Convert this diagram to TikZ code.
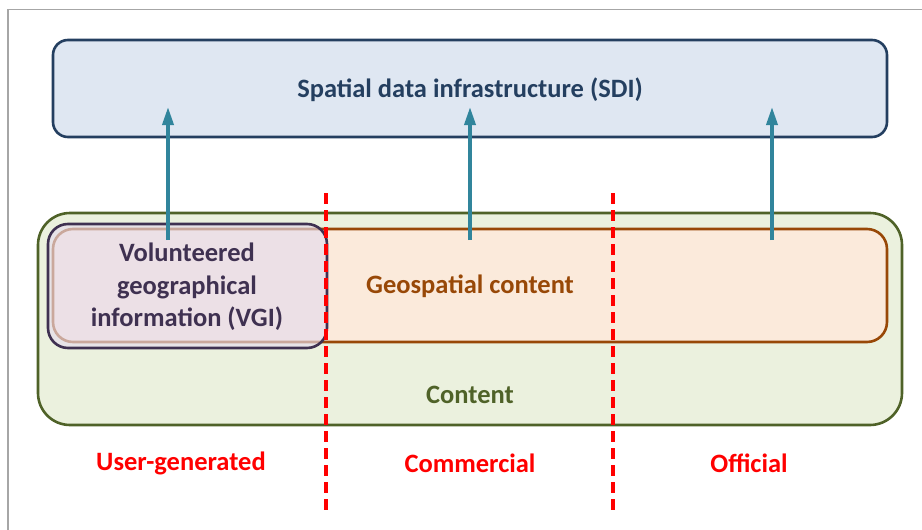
\documentclass[tikz,border=0pt]{standalone}
\usepackage{fontspec}
\setmainfont{Carlito}
\usetikzlibrary{arrows.meta}
\definecolor{sdifill}{HTML}{DFE7F2}
\definecolor{sdiline}{HTML}{243F60}
\definecolor{cfill}{HTML}{EBF1DE}
\definecolor{cline}{HTML}{4F6228}
\definecolor{gfill}{HTML}{FBEADB}
\definecolor{gline}{HTML}{984807}
\definecolor{vfill}{HTML}{E5DCEC}
\definecolor{vline}{HTML}{3F3151}
\definecolor{arr}{HTML}{31859C}
\definecolor{frame}{HTML}{A6A6A6}
\tikzset{
  txt/.style={font=\bfseries\fontsize{26.5}{32.5}\selectfont, align=center},
  upar/.style={draw=arr, line width=3.6pt, -{Triangle[width=11pt,length=18pt]}},
  divider/.style={draw=red, line width=3.4pt, dash pattern=on 11pt off 6pt},
  cat/.style={txt, text=red}
}
\begin{document}
\begin{tikzpicture}[x=1pt,y=-1pt]
\useasboundingbox (0,0) rectangle (922,530);
\draw[frame, line width=1.3pt] (922,9.5) -- (8,9.5) -- (8,530);
% SDI
\draw[fill=sdifill, draw=sdiline, line width=2.6pt, rounded corners=15pt] (53,40) rectangle (887,137);
\node[txt, text=sdiline] (sdi) at (470,90) {Spatial data infrastructure (SDI)};
% Content
\draw[fill=cfill, draw=cline, line width=2.6pt, rounded corners=32pt] (38,213) rectangle (902,425);
\node[txt, text=cline] (content) at (470,395) {Content};
% Geospatial
\draw[fill=gfill, draw=gline, line width=2.6pt, rounded corners=20pt] (53,229) rectangle (887,342);
\node[txt, text=gline] (geo) at (470,286) {Geospatial content};
% VGI
\draw[fill=vfill, fill opacity=0.65, draw=vline, line width=2.6pt, rounded corners=20pt] (48,224) rectangle (327,348);
\node[txt, text=vline] (vgi) at (187,287) {Volunteered\\geographical\\information (VGI)};
% arrows
\coordinate (a1s) at (168,240); \coordinate (a1e) at (168,107);
\coordinate (a2s) at (470,240); \coordinate (a2e) at (470,107);
\coordinate (a3s) at (772,240); \coordinate (a3e) at (772,107);
\draw[upar] (a1s) -- (a1e);
\draw[upar] (a2s) -- (a2e);
\draw[upar] (a3s) -- (a3e);
% dividers
\coordinate (d1t) at (326,193); \coordinate (d1b) at (326,516);
\coordinate (d2t) at (613,193); \coordinate (d2b) at (613,516);
\draw[divider] (d1t) -- (d1b);
\draw[divider] (d2t) -- (d2b);
% categories
\node[cat] (ug) at (181,463) {User-generated};
\node[cat] (com) at (470,463) {Commercial};
\node[cat] (off) at (749,463) {Official};
\end{tikzpicture}
\end{document}
